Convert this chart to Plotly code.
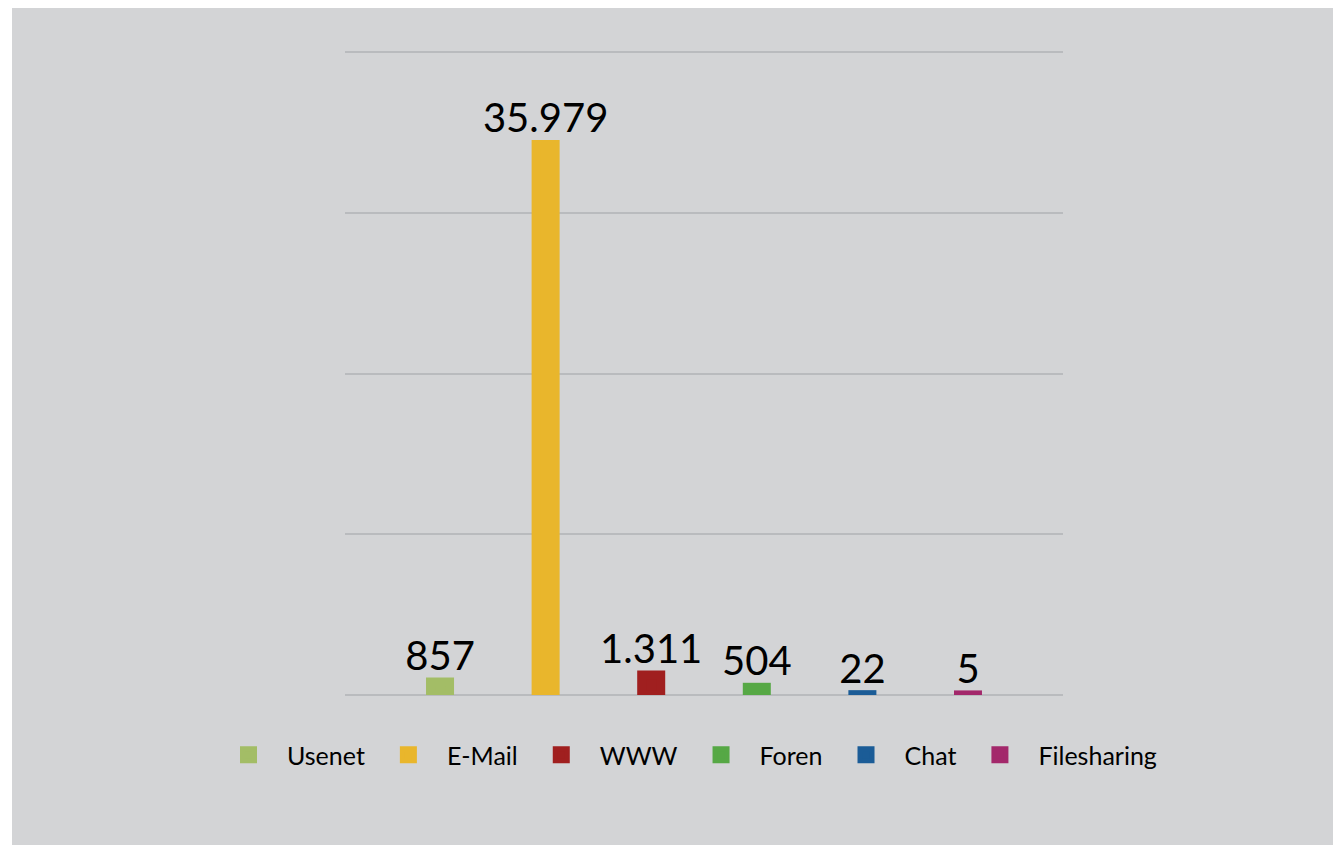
import plotly.graph_objects as go

categories = ["Usenet", "E-Mail", "WWW", "Foren", "Chat", "Filesharing"]
values = [857, 35979, 1311, 504, 22, 5]
bar_colors = ["#a3bd66", "#e9b62c", "#a01f1f", "#56a845", "#1b5c97", "#a3286b"]

OFF = 8  # page body margin
W, H = 1341, 845
L, R, T, B = 345 - OFF, 278 + OFF, 47 - OFF, 150 + OFF
pw, ph = W - L - R, H - T - B

fig = go.Figure()
for cat, val, col in zip(categories, values, bar_colors):
    fig.add_trace(go.Bar(
        x=[cat], y=[val], name=cat,
        marker=dict(color=col, line=dict(color=col, width=9)),
        width=0.18,
        texttemplate="%{y:,.0f}", textposition="outside", constraintext="none",
        textfont=dict(family="Lato", size=40, color="#000000"),
        cliponaxis=False,
    ))

def px_x(p):
    return (p - OFF - L) / pw

def px_y(p):
    return (H - B - (p - OFF)) / ph

fig.update_layout(
    width=W, height=H,
    margin=dict(l=L, r=R, t=T, b=B),
    paper_bgcolor="#d3d4d6", plot_bgcolor="#d3d4d6",
    separators=",.",
    barmode="overlay",
    showlegend=True,
    legend=dict(orientation="h", x=px_x(210), xanchor="left", y=px_y(755), yanchor="middle",
                font=dict(family="Lato", size=25, color="#000000"),
                itemwidth=67,
                bgcolor="rgba(0,0,0,0)"),
    xaxis=dict(range=[-0.9, 5.9], showticklabels=False, showgrid=False, zeroline=False,
               showline=False, ticks=""),
    yaxis=dict(range=[0, 42350], tick0=0, dtick=10500, showticklabels=False, showgrid=True,
               gridcolor="#b9bbbe", gridwidth=1.5, zeroline=True, zerolinecolor="#b9bbbe",
               zerolinewidth=1.5, showline=False, ticks=""),
    font=dict(family="Lato"),
    shapes=[
        dict(type="rect", xref="paper", yref="paper", x0=px_x(OFF), x1=px_x(12),
             y0=px_y(H + OFF), y1=px_y(OFF), fillcolor="#ffffff", line=dict(width=0), layer="below"),
    ],
)

fig.write_html("out.html")
